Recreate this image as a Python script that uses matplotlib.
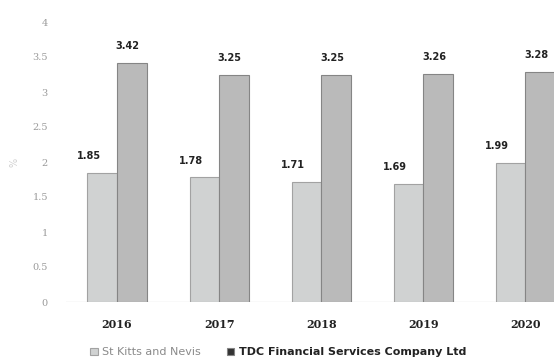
import numpy as np
import matplotlib
matplotlib.use('Agg')
import matplotlib.pyplot as plt

years = ['2016', '2017', '2018', '2019', '2020']
st_kitts = [1.85, 1.78, 1.71, 1.69, 1.99]
tdc = [3.42, 3.25, 3.25, 3.26, 3.28]
y_ticks = [0, 0.5, 1, 1.5, 2, 2.5, 3, 3.5, 4]

fig = plt.figure(figsize=(5.54, 3.62), dpi=100)
ax = fig.add_axes([66 / 554, 60 / 362, (554 - 66) / 554, (302 - 22) / 362])

x = np.arange(len(years))
w = 0.29
b1 = ax.bar(x - w / 2, st_kitts, w, color='#d0d2d2', edgecolor='#a2a2a2',
            linewidth=0.8, label='St Kitts and Nevis')
b2 = ax.bar(x + w / 2, tdc, w, color='#bababa', edgecolor='#858585',
            linewidth=0.8, label='TDC Financial Services Company Ltd')

# value labels, sitting a little left of each bar
for xi, v in zip(x, st_kitts):
    ax.text(xi - w / 2 - 0.13, v + 0.17, f'{v:.2f}', ha='center', va='bottom',
            fontsize=7, fontweight='bold', color='#222222')
for xi, v in zip(x, tdc):
    ax.text(xi + w / 2 - 0.04, v + 0.17, f'{v:.2f}', ha='center', va='bottom',
            fontsize=7, fontweight='bold', color='#222222')

ax.set_xlim(-0.5, 4.28)
ax.set_ylim(0, 4)
ax.set_yticks(y_ticks)
ax.set_yticklabels([f'{t:g}' for t in y_ticks], fontsize=7, color='#9a9a9a',
                   family='DejaVu Serif')
ax.set_xticks(x)
ax.set_xticklabels(years, fontsize=8, fontweight='bold', color='#222222',
                   family='DejaVu Serif')
ax.tick_params(axis='both', length=0)
ax.tick_params(axis='y', pad=13)
ax.tick_params(axis='x', pad=12)
for s in ax.spines.values():
    s.set_visible(False)
ax.axhline(0, color='#e2e2e2', linewidth=1.0, zorder=0)
ax.set_ylabel('%', fontsize=7, color='#d0d0d0', labelpad=9)

leg = fig.legend(handles=[b1, b2], loc='lower left', bbox_to_anchor=(80 / 554, -0.015),
                 ncol=2, frameon=False, fontsize=8, handlelength=0.7,
                 handleheight=0.7, handletextpad=0.4, columnspacing=2.3)
leg.get_texts()[0].set_color('#8a8a8a')
leg.get_texts()[1].set_color('#222222')
leg.get_texts()[1].set_fontweight('bold')
leg.legend_handles[1].set_facecolor('#333333')

fig.savefig('out.png', dpi=100)
